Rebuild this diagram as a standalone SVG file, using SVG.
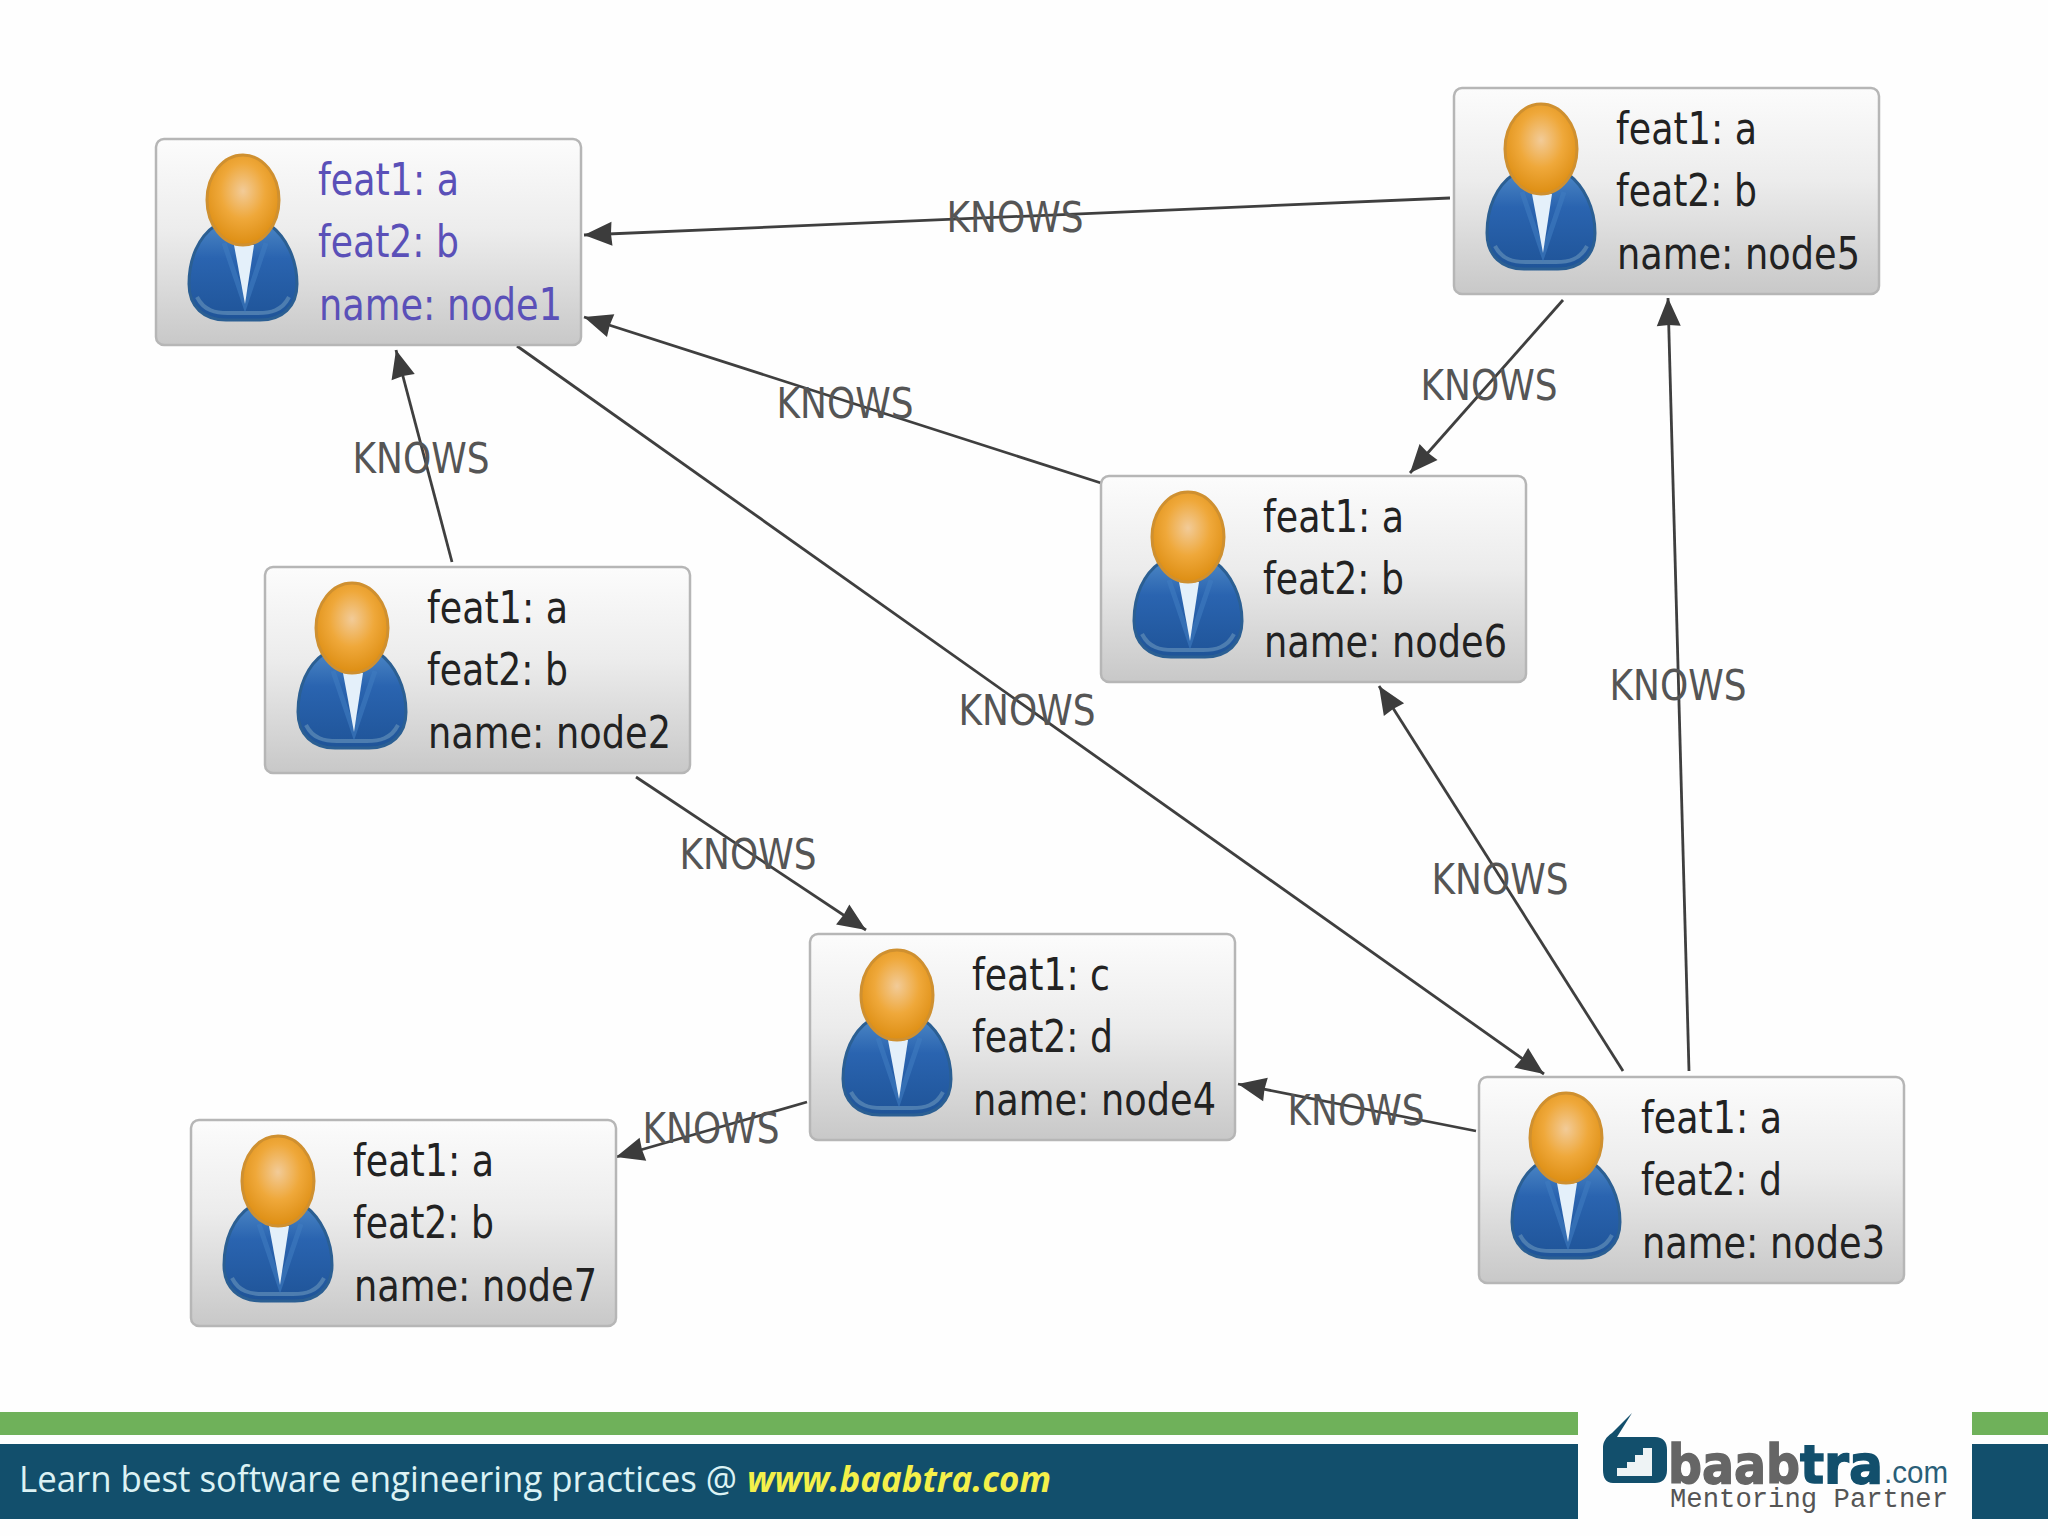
<svg xmlns="http://www.w3.org/2000/svg" xmlns:xlink="http://www.w3.org/1999/xlink" width="2048" height="1536" viewBox="0 0 2048 1536">
<style>
.box{fill:url(#boxg);stroke:#b6b6b6;stroke-width:2.5}
.t{font-family:"DejaVu Sans","Liberation Sans",sans-serif;font-stretch:condensed;font-size:44px;fill:#222}
.sel .t{fill:#5a50b8}
.e{fill:none;stroke:#3f3f3f;stroke-width:2.8;marker-end:url(#arr)}
.k{font-family:"DejaVu Sans","Liberation Sans",sans-serif;font-stretch:condensed;font-size:42px;fill:#555;text-anchor:middle}
.foot{font-family:"Open Sans","Noto Sans",sans-serif;font-size:36px;fill:#dcf2f4}
.lg{font-family:"DejaVu Sans",sans-serif;font-weight:700;font-size:54px}
</style>
<defs>
<linearGradient id="boxg" x1="0" y1="0" x2="0" y2="1"><stop offset="0" stop-color="#fcfcfc"/><stop offset=".45" stop-color="#ececec"/><stop offset="1" stop-color="#c8c8c8"/></linearGradient>
<radialGradient id="headg" cx=".5" cy=".4" r=".62"><stop offset="0" stop-color="#f2cb98"/><stop offset=".5" stop-color="#efa83a"/><stop offset="1" stop-color="#dc8c10"/></radialGradient>
<linearGradient id="bodyg" x1="0" y1="0" x2="0" y2="1"><stop offset="0" stop-color="#4a85c4"/><stop offset=".35" stop-color="#2a64b0"/><stop offset="1" stop-color="#1f5498"/></linearGradient>
<marker id="arr" markerUnits="userSpaceOnUse" markerWidth="32" markerHeight="28" refX="30" refY="14" orient="auto"><path d="M30 14L2 2L3 14L2 26Z" fill="#3c3c3c"/></marker>
<g id="avatar">
<path d="M60 86C42 98 33 120 33 145C33 168 48 181 70 181L104 181C126 181 141 168 141 145C141 120 130 98 114 86Z" fill="url(#bodyg)" stroke="#2b5f93" stroke-width="3"/>
<path d="M41 158C48 172 60 174 72 174L102 174C114 174 126 172 133 158" fill="none" stroke="#4d7db0" stroke-width="4"/>
<path d="M68 104L89 166L110 104" fill="none" stroke="#3f7cc0" stroke-width="5" opacity=".6"/>
<path d="M78 106L98 106L89 165Z" fill="#e4f0fa"/>
<ellipse cx="87" cy="61" rx="36" ry="45" fill="url(#headg)" stroke="#cf9030" stroke-width="3"/>
</g>
</defs>
<rect width="2048" height="1536" fill="#fefefe"/>
<g id="connectors">
<line class="e" x1="1450" y1="198" x2="584" y2="235"/>
<line class="e" x1="1101" y1="483" x2="584" y2="317"/>
<line class="e" x1="517" y1="346" x2="1544" y2="1074"/>
<line class="e" x1="452" y1="562" x2="396" y2="350"/>
<line class="e" x1="1563" y1="300" x2="1410" y2="473"/>
<line class="e" x1="1689" y1="1071" x2="1668" y2="298"/>
<line class="e" x1="1623" y1="1071" x2="1379" y2="686"/>
<line class="e" x1="636" y1="777" x2="866" y2="930"/>
<line class="e" x1="1476" y1="1131" x2="1238" y2="1084"/>
<line class="e" x1="807" y1="1102" x2="616" y2="1157"/>
</g>
<g id="edge-labels">
<text class="k" x="1015" y="232" textLength="137" lengthAdjust="spacingAndGlyphs">KNOWS</text>
<text class="k" x="845" y="418" textLength="137" lengthAdjust="spacingAndGlyphs">KNOWS</text>
<text class="k" x="1489" y="400" textLength="137" lengthAdjust="spacingAndGlyphs">KNOWS</text>
<text class="k" x="421" y="473" textLength="137" lengthAdjust="spacingAndGlyphs">KNOWS</text>
<text class="k" x="1027" y="725" textLength="137" lengthAdjust="spacingAndGlyphs">KNOWS</text>
<text class="k" x="1678" y="700" textLength="137" lengthAdjust="spacingAndGlyphs">KNOWS</text>
<text class="k" x="748" y="869" textLength="137" lengthAdjust="spacingAndGlyphs">KNOWS</text>
<text class="k" x="1500" y="894" textLength="137" lengthAdjust="spacingAndGlyphs">KNOWS</text>
<text class="k" x="1356" y="1125" textLength="137" lengthAdjust="spacingAndGlyphs">KNOWS</text>
<text class="k" x="711" y="1143" textLength="137" lengthAdjust="spacingAndGlyphs">KNOWS</text>
</g>
<g id="node1" class="sel" transform="translate(156 139)"><rect class="box" width="425" height="206" rx="8"/><use xlink:href="#avatar" href="#avatar"/>
<text class="t" x="162" y="56" textLength="141" lengthAdjust="spacingAndGlyphs">feat1: a</text><text class="t" x="162" y="118" textLength="141" lengthAdjust="spacingAndGlyphs">feat2: b</text><text class="t" x="163" y="181" textLength="243" lengthAdjust="spacingAndGlyphs">name: node1</text></g>
<g id="node2" transform="translate(265 567)"><rect class="box" width="425" height="206" rx="8"/><use xlink:href="#avatar" href="#avatar"/>
<text class="t" x="162" y="56" textLength="141" lengthAdjust="spacingAndGlyphs">feat1: a</text><text class="t" x="162" y="118" textLength="141" lengthAdjust="spacingAndGlyphs">feat2: b</text><text class="t" x="163" y="181" textLength="243" lengthAdjust="spacingAndGlyphs">name: node2</text></g>
<g id="node3" transform="translate(1479 1077)"><rect class="box" width="425" height="206" rx="8"/><use xlink:href="#avatar" href="#avatar"/>
<text class="t" x="162" y="56" textLength="141" lengthAdjust="spacingAndGlyphs">feat1: a</text><text class="t" x="162" y="118" textLength="141" lengthAdjust="spacingAndGlyphs">feat2: d</text><text class="t" x="163" y="181" textLength="243" lengthAdjust="spacingAndGlyphs">name: node3</text></g>
<g id="node4" transform="translate(810 934)"><rect class="box" width="425" height="206" rx="8"/><use xlink:href="#avatar" href="#avatar"/>
<text class="t" x="162" y="56" textLength="138" lengthAdjust="spacingAndGlyphs">feat1: c</text><text class="t" x="162" y="118" textLength="141" lengthAdjust="spacingAndGlyphs">feat2: d</text><text class="t" x="163" y="181" textLength="243" lengthAdjust="spacingAndGlyphs">name: node4</text></g>
<g id="node5" transform="translate(1454 88)"><rect class="box" width="425" height="206" rx="8"/><use xlink:href="#avatar" href="#avatar"/>
<text class="t" x="162" y="56" textLength="141" lengthAdjust="spacingAndGlyphs">feat1: a</text><text class="t" x="162" y="118" textLength="141" lengthAdjust="spacingAndGlyphs">feat2: b</text><text class="t" x="163" y="181" textLength="243" lengthAdjust="spacingAndGlyphs">name: node5</text></g>
<g id="node6" transform="translate(1101 476)"><rect class="box" width="425" height="206" rx="8"/><use xlink:href="#avatar" href="#avatar"/>
<text class="t" x="162" y="56" textLength="141" lengthAdjust="spacingAndGlyphs">feat1: a</text><text class="t" x="162" y="118" textLength="141" lengthAdjust="spacingAndGlyphs">feat2: b</text><text class="t" x="163" y="181" textLength="243" lengthAdjust="spacingAndGlyphs">name: node6</text></g>
<g id="node7" transform="translate(191 1120)"><rect class="box" width="425" height="206" rx="8"/><use xlink:href="#avatar" href="#avatar"/>
<text class="t" x="162" y="56" textLength="141" lengthAdjust="spacingAndGlyphs">feat1: a</text><text class="t" x="162" y="118" textLength="141" lengthAdjust="spacingAndGlyphs">feat2: b</text><text class="t" x="163" y="181" textLength="243" lengthAdjust="spacingAndGlyphs">name: node7</text></g>
<g id="footer">
<rect x="0" y="1412" width="1578" height="23" fill="#6fb15a"/>
<rect x="0" y="1444" width="1578" height="75" fill="#124f6c"/>
<rect x="1972" y="1412" width="76" height="23" fill="#6fb15a"/>
<rect x="1972" y="1444" width="76" height="75" fill="#124f6c"/>
<text class="foot" x="19" y="1492" textLength="718" lengthAdjust="spacingAndGlyphs">Learn best software engineering practices @</text>
<text class="foot" x="747" y="1492" textLength="304" lengthAdjust="spacingAndGlyphs" style="fill:#f4f04a;font-weight:700;font-style:italic">www.baabtra.com</text>
</g>
<g id="logo">
<path d="M1632 1413L1617 1437L1655 1437C1663 1437 1667 1442 1667 1450L1667 1470C1667 1479 1662 1483 1655 1483L1613 1483C1606 1483 1603 1478 1603 1470L1603 1447C1603 1442 1606 1437 1612 1433Z" fill="#124f6c"/>
<path d="M1652 1448V1476H1617V1468H1627V1462H1635V1455H1643V1448Z" fill="#eef3f5"/>
<text class="lg" x="1668" y="1483" textLength="132" lengthAdjust="spacingAndGlyphs" style="fill:#666;stroke:#666;stroke-width:1.5">baab</text>
<text class="lg" x="1800" y="1483" textLength="83" lengthAdjust="spacingAndGlyphs" style="fill:#124f6c;stroke:#124f6c;stroke-width:1.5">tra</text>
<text x="1884" y="1483" textLength="64" lengthAdjust="spacingAndGlyphs" style="font-family:'Liberation Sans',sans-serif;font-size:32px;fill:#2a5f78">.com</text>
<text x="1670" y="1507" textLength="278" lengthAdjust="spacingAndGlyphs" style="font-family:'Liberation Mono',monospace;font-size:27px;fill:#555">Mentoring Partner</text>
</g>
</svg>
